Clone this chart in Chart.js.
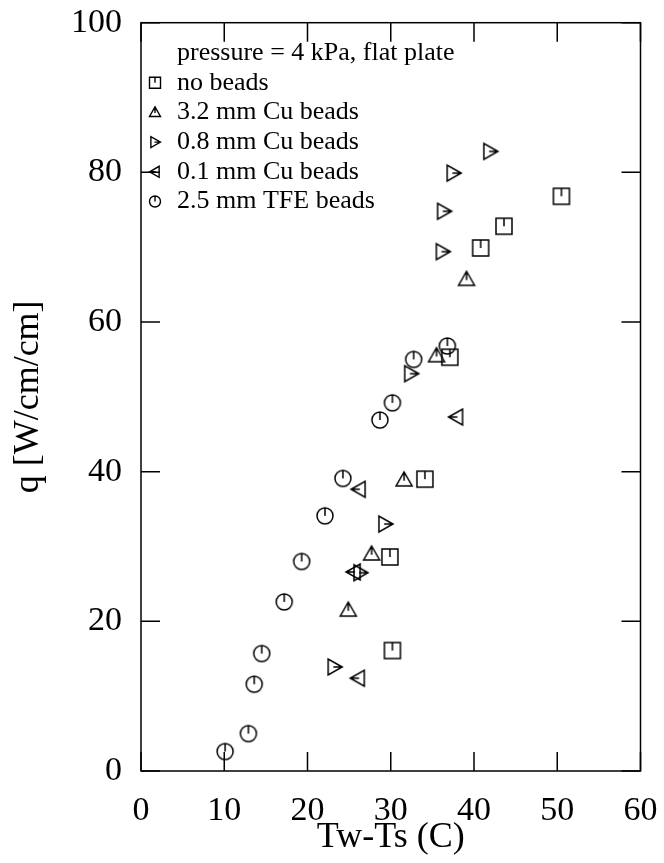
<!DOCTYPE html>
<html>
<head>
<meta charset="utf-8">
<script src="https://cdn.jsdelivr.net/npm/chart.js@4.4.1/dist/chart.umd.min.js"></script>
<style>
  html, body { margin: 0; padding: 0; background: #fff; }
  #wrap { width: 664px; height: 863px; }
</style>
</head>
<body>
<div id="wrap"><canvas id="qplot"></canvas></div>
<script>
// Start Data
const noBeadsX = [30.2, 29.9, 34.1, 37.1, 40.8, 43.6, 50.5];
const noBeadsY = [16.1, 28.6, 39.0, 55.3, 69.9, 72.8, 76.8];

const cu32X = [24.9, 27.7, 31.6, 35.5, 39.1];
const cu32Y = [21.5, 29.0, 38.9, 55.5, 65.7];

const cu08X = [23.2, 26.3, 29.3, 32.4, 36.2, 36.35, 37.5, 41.9];
const cu08Y = [13.9, 26.5, 33.0, 53.1, 69.4, 74.8, 79.9, 82.8];

const cu01X = [26.1, 25.6, 26.2, 37.9];
const cu01Y = [12.4, 26.6, 37.65, 47.3];

const tfeX = [10.1, 12.9, 13.6, 14.5, 17.2, 19.3, 22.1, 24.25, 28.7, 30.2, 32.75, 36.8];
const tfeY = [2.6, 5.0, 11.6, 15.7, 22.6, 28.0, 34.1, 39.1, 46.9, 49.2, 55.0, 56.8];

const seriesNames = ['no beads', '3.2 mm Cu beads', '0.8 mm Cu beads', '0.1 mm Cu beads', '2.5 mm TFE beads'];
const legendTitle = 'pressure = 4 kPa, flat plate';
const xTickLabels = [0, 10, 20, 30, 40, 50, 60];
const yTickLabels = [0, 20, 40, 60, 80, 100];
// End Data

function pairs(xs, ys){
  return xs.map(function(x, i){ return {x: x, y: ys[i]}; });
}

// Start Markers
function drawMarker(c, kind, cx, cy, r){
  c.beginPath();
  if (kind == 'square') {
    c.rect(cx - r, cy - r, 2*r, 2*r);
    c.moveTo(cx, cy - r); c.lineTo(cx, cy);
  } else if (kind == 'up') {
    c.moveTo(cx, cy - r); c.lineTo(cx + r, cy + r*0.75); c.lineTo(cx - r, cy + r*0.75); c.closePath();
    c.moveTo(cx, cy - r); c.lineTo(cx, cy + r*0.1);
  } else if (kind == 'right') {
    c.moveTo(cx + r, cy); c.lineTo(cx - r*0.75, cy - r); c.lineTo(cx - r*0.75, cy + r); c.closePath();
    c.moveTo(cx + r, cy); c.lineTo(cx - r*0.1, cy);
  } else if (kind == 'left') {
    c.moveTo(cx - r, cy); c.lineTo(cx + r*0.75, cy - r); c.lineTo(cx + r*0.75, cy + r); c.closePath();
    c.moveTo(cx - r, cy); c.lineTo(cx + r*0.1, cy);
  } else {
    c.arc(cx, cy, r, 0, Math.PI*2);
    c.moveTo(cx, cy - r); c.lineTo(cx, cy);
  }
  c.stroke();
}

function markerImage(kind, size, r){
  const cv = document.createElement('canvas');
  cv.width = size; cv.height = size;
  const c = cv.getContext('2d');
  c.strokeStyle = '#000';
  c.lineWidth = 1.5;
  drawMarker(c, kind, size/2, size/2, r);
  return cv;
}

const kinds = ['square', 'up', 'right', 'left', 'circle'];
const plotMarks = kinds.map(function(k){ return markerImage(k, 20, 8); });
// End Markers

// Start Frame + Legend plugin
const framePlugin = {
  id: 'frame',
  afterDraw: function(chart){
    const c = chart.ctx;
    const a = chart.chartArea;
    const xs = chart.scales.x, ys = chart.scales.y;
    c.save();
    c.strokeStyle = '#000';
    c.lineWidth = 1.5;
    c.strokeRect(a.left, a.top, a.right - a.left, a.bottom - a.top);
    c.beginPath();
    xTickLabels.forEach(function(v){
      const px = xs.getPixelForValue(v);
      c.moveTo(px, a.bottom); c.lineTo(px, a.bottom - 19);
      c.moveTo(px, a.top); c.lineTo(px, a.top + 19);
    });
    yTickLabels.forEach(function(v){
      const py = ys.getPixelForValue(v);
      c.moveTo(a.left, py); c.lineTo(a.left + 19, py);
      c.moveTo(a.right, py); c.lineTo(a.right - 19, py);
    });
    c.stroke();

    // legend
    c.fillStyle = '#000';
    c.font = '26px "Liberation Serif"';
    c.textBaseline = 'middle';
    c.textAlign = 'left';
    const lx = 177, mx = 155;
    let ly = 53;
    c.fillText(legendTitle, lx, ly);
    seriesNames.forEach(function(name, i){
      ly += 29.7;
      c.lineWidth = 1.4;
      drawMarker(c, kinds[i], mx, ly, 5.5);
      c.fillText(name, lx, ly);
    });
    c.restore();
  }
};
// End Frame + Legend plugin

const ctx = document.getElementById('qplot');
const allX = [noBeadsX, cu32X, cu08X, cu01X, tfeX];
const allY = [noBeadsY, cu32Y, cu08Y, cu01Y, tfeY];

new Chart(ctx, {
  type: 'scatter',
  data: {
    datasets: seriesNames.map(function(name, i){
      return {
        label: name,
        data: pairs(allX[i], allY[i]),
        pointStyle: plotMarks[i],
        pointRadius: 8,
        borderColor: '#000',
        backgroundColor: 'transparent'
      };
    })
  },
  options: {
    responsive: true,
    maintainAspectRatio: false,
    animation: false,
    layout: { padding: { left: 0, right: 23.5, top: 22.7, bottom: 0 } },
    plugins: {
      legend: { display: false },
      tooltip: { enabled: false }
    },
    scales: {
      x: {
        type: 'linear',
        min: 0, max: 60,
        grid: { display: false },
        border: { display: false },
        ticks: {
          stepSize: 10,
          padding: 12,
          color: '#000',
          font: { family: 'Liberation Serif', size: 34 }
        },
        title: {
          display: true,
          text: 'Tw-Ts (C)',
          color: '#000',
          font: { family: 'Liberation Serif', size: 36 },
          padding: { top: 0, bottom: 3.5 }
        },
        afterFit: function(s){
          s.height = 92;
          s.paddingLeft = 0; s.paddingRight = 0;
        }
      },
      y: {
        type: 'linear',
        min: 0, max: 100,
        grid: { display: false },
        border: { display: false },
        ticks: {
          stepSize: 20,
          padding: 11,
          color: '#000',
          font: { family: 'Liberation Serif', size: 34 }
        },
        title: {
          display: true,
          text: 'q [W/cm/cm]',
          color: '#000',
          font: { family: 'Liberation Serif', size: 36 },
          padding: { top: 6.5, bottom: 0 }
        },
        afterFit: function(s){
          s.width = 141;
          s.paddingTop = 0; s.paddingBottom = 0;
        }
      }
    }
  },
  plugins: [framePlugin]
});
</script>
</body>
</html>
